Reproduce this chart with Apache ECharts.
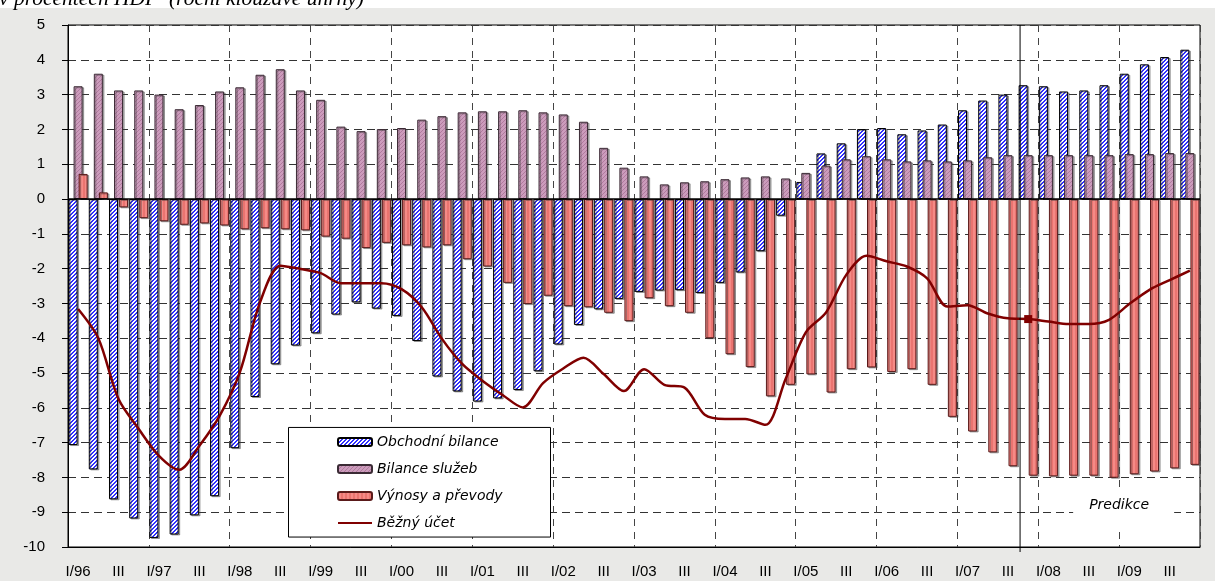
<!DOCTYPE html>
<html>
<head>
<meta charset="utf-8">
<script src="https://cdn.jsdelivr.net/npm/echarts@6/dist/echarts.min.js"></script>
<style>
html,body{margin:0;padding:0;background:#e9e9e7;}
#chart{width:1215px;height:581px;}
</style>
</head>
<body>
<div id="chart"></div>
<script>
// ---- data ----
const categories = [
 'I/96','II','III','IV','I/97','II','III','IV','I/98','II','III','IV',
 'I/99','II','III','IV','I/00','II','III','IV','I/01','II','III','IV',
 'I/02','II','III','IV','I/03','II','III','IV','I/04','II','III','IV',
 'I/05','II','III','IV','I/06','II','III','IV','I/07','II','III','IV',
 'I/08','II','III','IV','I/09','II','III','IV'];
const seriesNames = ['Obchodní bilance','Bilance služeb','Výnosy a převody','Běžný účet'];
const tradeBalance = [-7.07,-7.77,-8.63,-9.18,-9.74,-9.64,-9.09,-8.54,-7.16,-5.69,-4.75,-4.21,
 -3.86,-3.32,-2.97,-3.15,-3.36,-4.08,-5.10,-5.53,-5.82,-5.73,-5.49,-4.95,
 -4.18,-3.62,-3.17,-2.87,-2.67,-2.63,-2.62,-2.70,-2.41,-2.11,-1.50,-0.48,
 0.49,1.31,1.60,2.01,2.04,1.86,1.97,2.14,2.55,2.83,3.00,3.27,
 3.24,3.09,3.12,3.27,3.60,3.87,4.08,4.29];
const servicesBalance = [3.24,3.60,3.12,3.12,3.00,2.58,2.70,3.09,3.21,3.57,3.73,3.12,
 2.85,2.08,1.95,2.01,2.04,2.28,2.38,2.49,2.52,2.52,2.55,2.49,
 2.43,2.22,1.47,0.90,0.65,0.42,0.48,0.51,0.57,0.62,0.65,0.59,
 0.75,0.96,1.14,1.23,1.14,1.08,1.11,1.08,1.11,1.20,1.26,1.26,
 1.26,1.26,1.26,1.26,1.29,1.29,1.32,1.32];
const incomeTransfers = [0.72,0.19,-0.24,-0.55,-0.64,-0.74,-0.70,-0.76,-0.87,-0.84,-0.87,-0.90,
 -1.08,-1.14,-1.41,-1.26,-1.33,-1.39,-1.33,-1.73,-1.94,-2.41,-3.02,-2.78,
 -3.08,-3.11,-3.27,-3.51,-2.85,-3.08,-3.27,-4.00,-4.46,-4.83,-5.67,-5.34,
 -5.04,-5.56,-4.89,-4.84,-4.97,-4.89,-5.34,-6.26,-6.68,-7.28,-7.68,-7.95,
 -7.97,-7.95,-7.95,-8.01,-7.91,-7.83,-7.74,-7.64];
const currentAccount = [-3.16,-4.00,-5.75,-6.61,-7.38,-7.78,-7.09,-6.23,-4.98,-2.97,-1.92,-2.01,
 -2.13,-2.42,-2.42,-2.42,-2.59,-3.11,-4.02,-4.74,-5.22,-5.63,-5.99,-5.29,
 -4.87,-4.56,-5.03,-5.52,-4.89,-5.34,-5.42,-6.20,-6.32,-6.32,-6.49,-5.17,
 -3.83,-3.26,-2.18,-1.63,-1.79,-1.94,-2.28,-3.09,-3.05,-3.29,-3.43,-3.45,
 -3.52,-3.59,-3.59,-3.47,-3.02,-2.61,-2.33,-2.06];
const markedIndex = 47;        // IV/07 – last actual value
const predictionStart = 47;    // prediction boundary
const titleText = 'v procentech HDP  (roční klouzavé úhrny)';
const predictionText = 'Predikce';

// ---- patterns ----
function makePattern(size, bg, fg, test){
  const c = document.createElement('canvas');
  c.width = size; c.height = size;
  const ctx = c.getContext('2d');
  ctx.fillStyle = bg; ctx.fillRect(0,0,size,size);
  ctx.fillStyle = fg;
  for(let x=0;x<size;x++) for(let y=0;y<size;y++) if(test(x,y)) ctx.fillRect(x,y,1,1);
  return {image:c, repeat:'repeat'};
}
const bluePat = makePattern(4,'#ffffff','#3030ff',(x,y)=>((x+y)%4)<2);
const purplePat = makePattern(4,'#cc9cbc','#b07a9e',(x,y)=>((x+y)%4)===0);
const redPat = makePattern(4,'#f58a86','#ea7470',(x,y)=>(x%3)===0);

const shadow = {shadowColor:'rgba(60,60,60,0.45)', shadowOffsetX:1.5, shadowOffsetY:1, shadowBlur:0};

const chart = echarts.init(document.getElementById('chart'));
const option = {
  animation:false,
  backgroundColor:'#e9e9e7',
  grid:{left:68,right:15,top:25,bottom:34,show:true,backgroundColor:'#ffffff',borderColor:'#000',borderWidth:1},
  legend:{
    orient:'vertical', left:337, top:434, padding:0, itemWidth:34, itemHeight:8, itemGap:11, z:20,
    data:[seriesNames[0], seriesNames[1], seriesNames[2],
      {name:seriesNames[3], itemStyle:{color:'rgba(0,0,0,0)', borderColor:'rgba(0,0,0,0)', borderWidth:0}}],
    textStyle:{fontFamily:'DejaVu Sans', fontStyle:'italic', fontSize:14, color:'#000', lineHeight:16}
  },
  xAxis:{
    type:'category', data:categories, position:'bottom',
    axisLine:{onZero:false, lineStyle:{color:'#000',width:1}},
    axisTick:{show:false},
    axisLabel:{interval:1, color:'#000', fontFamily:'Liberation Sans, Arial', fontSize:15, margin:17},
    splitLine:{show:true, interval:(i)=> i>0 && i%4===0, lineStyle:{color:'#444', type:[7,6], width:1}}
  },
  yAxis:{
    type:'value', min:-10, max:5, interval:1,
    axisLine:{show:true, lineStyle:{color:'#000',width:1}},
    axisTick:{show:true, length:6, lineStyle:{color:'#000'}},
    axisLabel:{color:'#000', fontFamily:'Liberation Sans, Arial', fontSize:15, margin:23},
    splitLine:{show:true, lineStyle:{color:'#333', type:[8,5], width:1}}
  },
  series:[
    {name:seriesNames[0], type:'bar', data:tradeBalance, barWidth:9,
     itemStyle:Object.assign({color:bluePat, borderColor:'#000', borderWidth:1}, shadow),
     markLine:{silent:true, symbol:'none', label:{show:false}, lineStyle:{color:'#000',type:'solid',width:1.5}, data:[{yAxis:0}], z:10}},
    {name:seriesNames[1], type:'bar', data:servicesBalance, barWidth:9,
     itemStyle:Object.assign({color:purplePat, borderColor:'#3a2a34', borderWidth:1}, shadow)},
    {name:seriesNames[2], type:'bar', data:incomeTransfers, barWidth:9, barGap:'-44%', barCategoryGap:'0%',
     itemStyle:Object.assign({color:redPat, borderColor:'#5a1a1a', borderWidth:1}, shadow)},
    {name:seriesNames[3], type:'line', smooth:0.3, symbol:'none', z:5,
     lineStyle:{color:'#800000', width:2.5}, itemStyle:{color:'#800000'},
     data:currentAccount,
     markPoint:{silent:true, symbol:'rect', symbolSize:8, itemStyle:{color:'#800000'}, label:{show:false},
       data:[{coord:[markedIndex, currentAccount[markedIndex]]}]}}
  ]
};
chart.setOption(option);

// annotations positioned through the chart's own scales
const x0 = chart.convertToPixel({xAxisIndex:0}, 0);
const x1 = chart.convertToPixel({xAxisIndex:0}, 1);
const band = x1 - x0;
const yTop = chart.convertToPixel({yAxisIndex:0}, 5);
const yBot = chart.convertToPixel({yAxisIndex:0}, -10);
const xPred = chart.convertToPixel({xAxisIndex:0}, predictionStart) - band/2 + 2;
const xTextC = chart.convertToPixel({xAxisIndex:0}, 52) - band/2;
const yText = chart.convertToPixel({yAxisIndex:0}, -8.8);
const yBoxTop = chart.convertToPixel({yAxisIndex:0}, -8.42);
const yBoxBot = chart.convertToPixel({yAxisIndex:0}, -9.45);
const lgTop = chart.convertToPixel({yAxisIndex:0}, -6.55);
const lgBot = chart.convertToPixel({yAxisIndex:0}, -9.7);

chart.setOption({
  graphic:[
    {type:'rect', z:0, shape:{x:0,y:0,width:1215,height:8}, style:{fill:'#ffffff'}},
    {type:'text', z:1, x:-1, y:10, style:{text:titleText, fontFamily:'Liberation Serif', fontStyle:'italic', fontSize:21.5, fill:'#000', verticalAlign:'bottom', align:'left'}},
    {type:'line', z:6, shape:{x1:xPred, y1:yTop, x2:xPred, y2:yBot+5}, style:{stroke:'#000', lineWidth:1}},
    {type:'rect', z:6, shape:{x:xTextC-46, y:yBoxTop, width:101, height:yBoxBot-yBoxTop}, style:{fill:'#ffffff'}},
    {type:'text', z:7, x:xTextC, y:yText, style:{text:predictionText, fontFamily:'DejaVu Sans', fontStyle:'italic', fontSize:14, fill:'#000', align:'center', verticalAlign:'middle'}},
    {type:'rect', z:8, shape:{x:288.5, y:lgTop+0.5, width:262, height:lgBot-lgTop}, style:{fill:'#ffffff', stroke:'#000', lineWidth:1}}
  ]
});
</script>
</body>
</html>
